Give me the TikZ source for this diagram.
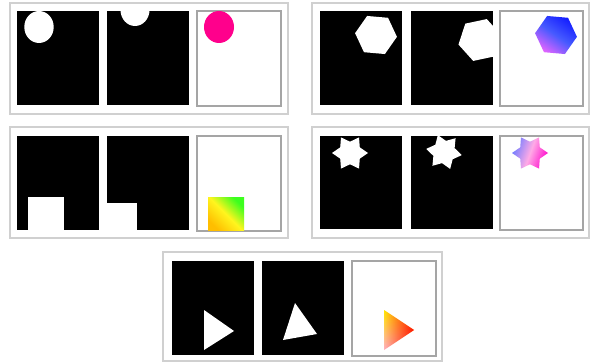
\documentclass[tikz,border=0pt]{standalone}
\usetikzlibrary{fadings}
\tikzfading[name=fadeclearleft, left color=transparent!100, right color=transparent!0]
\definecolor{outergray}{RGB}{208,208,208}
\definecolor{innergray}{RGB}{165,165,165}
\definecolor{hotpink}{RGB}{255,0,140}
\definecolor{hexblue}{RGB}{20,30,255}
\definecolor{hexmid}{RGB}{70,90,255}
\definecolor{hexviolet}{RGB}{225,100,255}
\definecolor{sqorange}{RGB}{255,190,0}
\definecolor{sqyellow}{RGB}{255,245,30}
\definecolor{sqgreen}{RGB}{60,255,30}
\definecolor{starblue}{RGB}{115,125,255}
\definecolor{starmid}{RGB}{255,170,230}
\definecolor{starmag}{RGB}{255,10,205}
\definecolor{tyellow}{RGB}{255,230,0}
\definecolor{tpink}{RGB}{255,175,195}
\definecolor{tred}{RGB}{255,20,0}
\begin{document}
\begin{tikzpicture}[x=1pt,y=-1pt,
  outerframe/.style={draw=outergray,line width=1.2pt},
  blackbox/.style={fill=black},
  whitebox/.style={draw=innergray,line width=1.2pt,fill=white}]
\useasboundingbox[fill=white] (0,0) rectangle (596,363);

% ---------- panel 1: circle ----------
\draw[outerframe] (10,3) rectangle (288,114);
\fill[blackbox] (17,11) rectangle (99,105);
\begin{scope}
  \clip (17,11) rectangle (99,105);
  \fill[white] (39,27) ellipse [x radius=14.7, y radius=16];
\end{scope}
\fill[blackbox] (107,11) rectangle (189,105);
\begin{scope}
  \clip (107,11) rectangle (189,105);
  \fill[white] (135,10) ellipse [x radius=14.5, y radius=16];
\end{scope}
\draw[whitebox] (197,11) rectangle (281,106);
\fill[hotpink] (219,27) ellipse [x radius=15, y radius=16];

% ---------- panel 2: hexagon ----------
\draw[outerframe] (312,3) rectangle (589,114);
\fill[blackbox] (320,11) rectangle (402,105);
\fill[white] plot[samples at={0,...,5}, variable=\k]
  ({376+21*cos(-5+60*\k)}, {35-21*sin(-5+60*\k)}) -- cycle;
\fill[blackbox] (411,11) rectangle (493,105);
\begin{scope}
  \clip (411,11) rectangle (493,105);
  \fill[white] plot[samples at={0,...,5}, variable=\k]
    ({480+22*cos(12+60*\k)}, {40-22*sin(12+60*\k)}) -- cycle;
\end{scope}
\draw[whitebox] (500,11) rectangle (583,106);
\shade[shading=axis, top color=hexblue, bottom color=hexviolet, middle color=hexmid, shading angle=-35]
  plot[samples at={0,...,5}, variable=\k]
  ({556+21*cos(-5+60*\k)}, {35-21*sin(-5+60*\k)}) -- cycle;

% ---------- panel 3: square ----------
\draw[outerframe] (10,127) rectangle (288,238);
\fill[blackbox] (17,136) rectangle (99,230);
\fill[white] (28,197) rectangle (64,230);
\fill[blackbox] (107,136) rectangle (189,230);
\fill[white] (107,203) rectangle (137,230);
\draw[whitebox] (197,136) rectangle (281,231);
\shade[shading=axis, top color=sqgreen, bottom color=sqorange, middle color=sqyellow, shading angle=-45]
  (208,198) rectangle (244,230);

% ---------- panel 4: star ----------
\draw[outerframe] (312,127) rectangle (589,238);
\fill[blackbox] (320,136) rectangle (402,229);
\begin{scope}
  \clip (320,136) rectangle (402,229);
  \fill[white] plot[samples at={0,...,11}, variable=\k]
    ({350+ifthenelse(mod(\k,2)==0,18,11.3)*cos(30*\k)}, {153-ifthenelse(mod(\k,2)==0,18,11.3)*sin(30*\k)}) -- cycle;
\end{scope}
\fill[blackbox] (411,136) rectangle (493,229);
\begin{scope}
  \clip (411,136) rectangle (493,229);
  \fill[white] plot[samples at={0,...,11}, variable=\k]
    ({444+ifthenelse(mod(\k,2)==0,18,11.3)*cos(-10+30*\k)}, {152-ifthenelse(mod(\k,2)==0,18,11.3)*sin(-10+30*\k)}) -- cycle;
\end{scope}
\draw[whitebox] (500,136) rectangle (583,230);
\shade[shading=axis, top color=starblue, bottom color=starmag, middle color=starmid, shading angle=70]
  plot[samples at={0,...,11}, variable=\k]
  ({530+ifthenelse(mod(\k,2)==0,18,11.3)*cos(30*\k)}, {153-ifthenelse(mod(\k,2)==0,18,11.3)*sin(30*\k)}) -- cycle;

% ---------- panel 5: triangle ----------
\draw[outerframe] (163,252) rectangle (442,361);
\fill[blackbox] (172,261) rectangle (254,355);
\fill[white] (204,310) -- (234,331) -- (204,350) -- cycle;
\fill[blackbox] (262,261) rectangle (344,355);
\fill[white] (295,303) -- (317,334) -- (283,340) -- cycle;
\draw[whitebox] (352,261) rectangle (436,356);
\shade[shading=axis, top color=tyellow, bottom color=tpink] (384,310) -- (414,330) -- (384,350) -- cycle;
\fill[tred, path fading=fadeclearleft] (384,310) -- (414,330) -- (384,350) -- cycle;
\end{tikzpicture}
\end{document}
